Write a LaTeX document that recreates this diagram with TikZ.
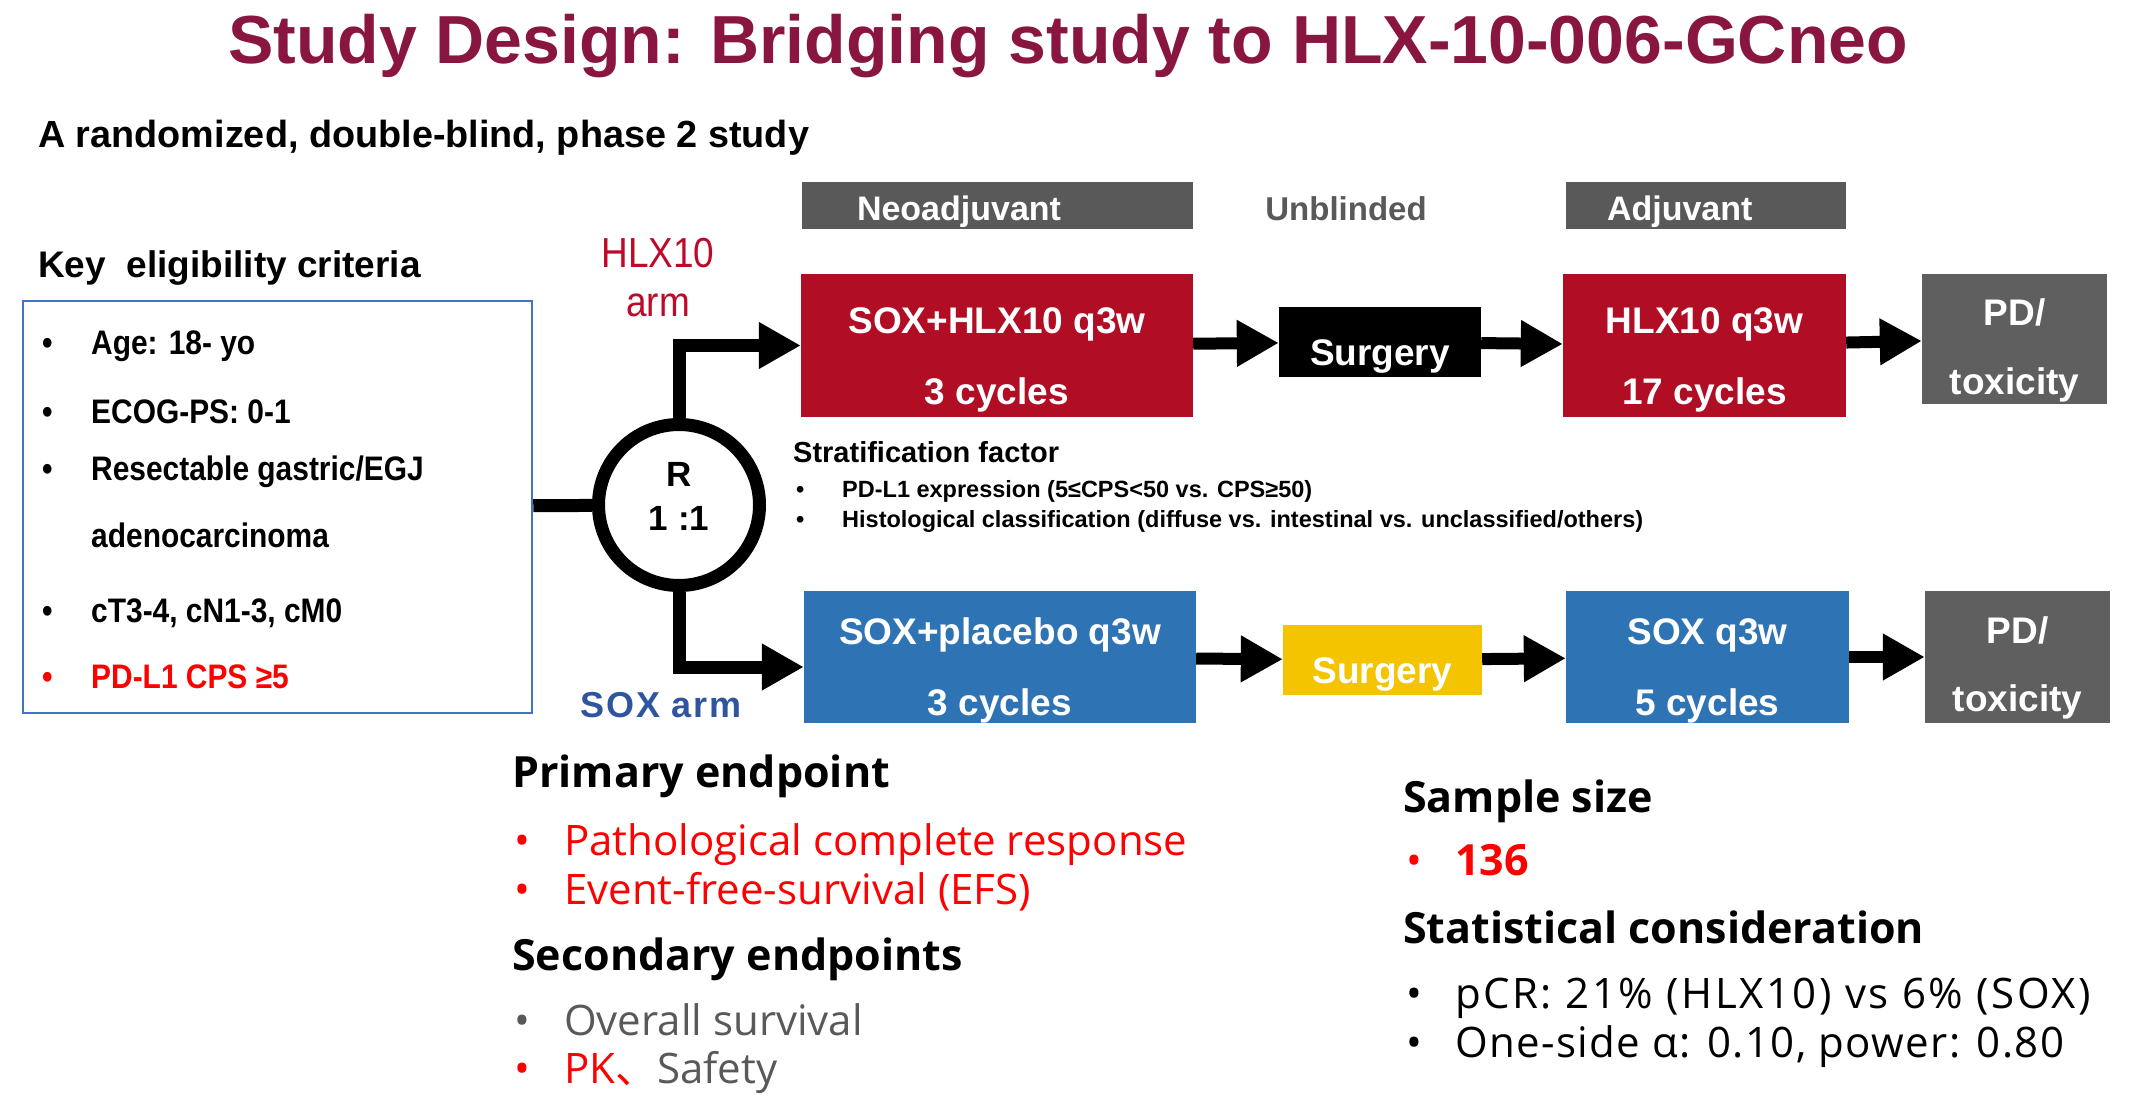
\documentclass[tikz,border=0pt]{standalone}
\usepackage{fontspec}
\setmainfont{Liberation Sans}
\newfontfamily\narrowsans[FakeStretch=0.88]{Liberation Sans}
\newfontfamily\gothic{Open Sans}
\newfontfamily\cjk{Noto Sans CJK SC}
\usetikzlibrary{arrows.meta}

\definecolor{titlered}{HTML}{891640}
\definecolor{armred}{HTML}{B10E26}
\definecolor{armblue}{HTML}{2E74B5}
\definecolor{surgyellow}{HTML}{F5C400}
\definecolor{bargray}{HTML}{595959}
\definecolor{pdgray}{HTML}{5F5F5F}
\definecolor{frameblue}{HTML}{4472C4}
\definecolor{soxblue}{HTML}{2F55A0}
\definecolor{hlxred}{HTML}{BE0A2A}
\definecolor{txtgray}{HTML}{595959}
\definecolor{hotred}{HTML}{FF0000}

% strut that pushes the first line of a box down
\newcommand{\boxstrut}[1]{\rule{0pt}{#1}}

\tikzset{
  txt/.style={anchor=base west, inner sep=0pt},
  flowbox/.style={rectangle, text=white, align=center, inner sep=0pt,
    font=\fontsize{37}{71}\selectfont\bfseries},
  surgbox/.style={flowbox, minimum height=70pt, text height=0pt, text depth=0pt},
  phasebar/.style={rectangle, fill=bargray, text=white, inner xsep=0pt, inner ysep=0pt,
    minimum height=47pt, align=left, text height=31pt, text depth=0pt,
    font=\fontsize{34}{40}\selectfont\bfseries},
  flowarrow/.style={line width=12pt, {Triangle[length=42pt,width=44pt]}-},
  armarrow/.style={line width=13pt, -{Triangle[length=42pt,width=44pt]}},
  eligfont/.style={font=\fontsize{34}{40}\selectfont\narrowsans\bfseries},
  stratfont/.style={font=\fontsize{23.5}{28}\selectfont\bfseries},
  headfont/.style={font=\fontsize{43}{50}\selectfont\gothic\bfseries},
  itemfont/.style={font=\fontsize{42}{50}\selectfont\gothic},
  spacedfont/.style={font=\fontsize{42}{50}\selectfont\gothic\addfontfeatures{LetterSpace=#1}},
}

\begin{document}
\begin{tikzpicture}[x=1pt, y=-1pt]
\useasboundingbox (0,0) rectangle (2150,1115);

\node (title) at (1068,64) [anchor=base, inner sep=0pt, text=titlered,
  font=\fontsize{68}{80}\selectfont\bfseries] {Study Design: Bridging study to HLX-10-006-GCneo};
\node (design) at (38,148) [txt, font=\fontsize{37.8}{44}\selectfont\bfseries] {A randomized, double-blind, phase 2 study};

% phase headers
\node (neobar) at (997.5,205.5) [phasebar, text width=391pt] {\hspace*{55pt}Neoadjuvant};
\node (unblind) at (1346,209) [text=bargray, font=\fontsize{33}{40}\selectfont\bfseries] {Unblinded};
\node (adjbar) at (1706,205.5) [phasebar, text width=280pt] {\hspace*{41pt}Adjuvant};

% eligibility
\node (keyelig) at (38,278) [txt, font=\fontsize{37}{40}\selectfont\bfseries] {Key\ \ eligibility criteria};
\node (elig) at (277.5,507) [draw=frameblue, line width=2.5pt, minimum width=509pt, minimum height=412pt] {};
\node (b1) at (42,355) [txt, eligfont] {•};
\node (age) at (91,355) [txt, eligfont] {Age: 18- yo};
\node (b2) at (42,423) [txt, eligfont] {•};
\node (ecog) at (91,423) [txt, eligfont] {ECOG-PS: 0-1};
\node (b3) at (42,480) [txt, eligfont] {•};
\node (resect) at (91,480) [txt, eligfont] {Resectable gastric/EGJ};
\node (adeno) at (91,547) [txt, eligfont] {adenocarcinoma};
\node (b4) at (42,622) [txt, eligfont] {•};
\node (stage) at (91,622) [txt, eligfont] {cT3-4, cN1-3, cM0};
\node (b5) at (42,688) [txt, eligfont, text=hotred] {•};
\node (cps) at (91,688) [txt, eligfont, text=hotred] {PD-L1 CPS ≥5};

% randomisation
\node (rand) at (679,505) [circle, draw, line width=13pt, minimum size=161pt, inner sep=0pt, align=center,
  font=\fontsize{35}{44}\selectfont\bfseries] {R\\1 :1\rule[-18pt]{0pt}{18pt}} edge[line width=13pt] (elig);
\node (hlxarm) at (658,278) [inner sep=0pt, text=hlxred, align=center,
  font=\fontsize{42}{49}\selectfont\narrowsans] {HLX10\\arm};
\node (soxarm) at (661,717) [anchor=base, inner sep=0pt, text=soxblue,
  font=\fontsize{36}{40}\selectfont\bfseries\addfontfeatures{LetterSpace=5}] {SOX arm};

% HLX10 arm
\node (neo1) at (997,345.5) [flowbox, fill=armred, minimum width=392pt, minimum height=143pt] {\boxstrut{55pt}SOX+HLX10 q3w\\3 cycles};
\node (surg1) at (1380,342) [surgbox, fill=black, minimum width=202pt] {\raisebox{-24pt}{Surgery}} edge[flowarrow] (neo1);
\node (adj1) at (1704.5,345.5) [flowbox, fill=armred, minimum width=283pt, minimum height=143pt] {\boxstrut{55pt}HLX10 q3w\\17 cycles} edge[flowarrow] (surg1);
\node (pd1) at (2014.5,339) [flowbox, fill=pdgray, minimum width=185pt, minimum height=130pt,
  font=\fontsize{37}{69}\selectfont\bfseries] {\boxstrut{50pt}PD/\\toxicity} edge[flowarrow] (adj1);

% SOX arm
\node (neo2) at (1000,657) [flowbox, fill=armblue, minimum width=392pt, minimum height=132pt] {\boxstrut{54pt}SOX+placebo q3w\\3 cycles};
\node (surg2) at (1382.5,660) [surgbox, fill=surgyellow, minimum width=199pt] {\raisebox{-23pt}{Surgery}} edge[flowarrow] (neo2);
\node (adj2) at (1707.5,657) [flowbox, fill=armblue, minimum width=283pt, minimum height=132pt] {\boxstrut{54pt}SOX q3w\\5 cycles} edge[flowarrow] (surg2);
\node (pd2) at (2017.5,657) [flowbox, fill=pdgray, minimum width=185pt, minimum height=132pt,
  font=\fontsize{37}{68}\selectfont\bfseries] {\boxstrut{48pt}PD/\\toxicity} edge[flowarrow] (adj2);

\draw[armarrow] (rand) |- (neo1);
\draw[armarrow] (rand) |- ([yshift=-10pt]neo2.west);

% stratification
\node (strat) at (793,462) [txt, font=\fontsize{29}{34}\selectfont\bfseries] {Stratification factor};
\node (sb1) at (796,497) [txt, stratfont] {•};
\node (pdl1) at (842,497) [txt, stratfont] {PD-L1 expression (5≤CPS<50 vs. CPS≥50)};
\node (sb2) at (796,527) [txt, stratfont] {•};
\node (histo) at (842,527) [txt, stratfont] {Histological classification (diffuse vs. intestinal vs. unclassified/others)};

% endpoints
\node (primary) at (512,787) [txt, headfont] {Primary endpoint};
\node (pb1) at (514,855) [txt, itemfont, text=hotred] {•};
\node (pcr) at (564,855) [txt, itemfont, text=hotred] {Pathological complete response};
\node (pb2) at (514,904) [txt, itemfont, text=hotred] {•};
\node (efs) at (564,904) [txt, itemfont, text=hotred] {Event-free-survival (EFS)};
\node (secondary) at (512,970) [txt, headfont] {Secondary endpoints};
\node (sb3) at (514,1035) [txt, itemfont, text=txtgray] {•};
\node (os) at (564,1035) [txt, itemfont, text=txtgray] {Overall survival};
\node (sb4) at (514,1083) [txt, itemfont, text=hotred] {•};
\node (pk) at (564,1083) [txt, itemfont, text=hotred] {PK{\cjk 、}\textcolor{txtgray}{Safety}};

% sample size and statistics
\node (sample) at (1403,812) [txt, headfont] {Sample size};
\node (nb1) at (1406,875) [txt, itemfont, text=hotred] {•};
\node (n136) at (1455,875) [txt, headfont, text=hotred] {136};
\node (stats) at (1403,943) [txt, headfont] {Statistical consideration};
\node (nb2) at (1406,1008) [txt, itemfont] {•};
\node (rates) at (1455,1008) [txt, spacedfont=6] {pCR: 21\% (HLX10) vs 6\% (SOX)};
\node (nb3) at (1406,1057) [txt, itemfont] {•};
\node (alpha) at (1455,1057) [txt, spacedfont=3.3] {One-side α: 0.10, power: 0.80};
\end{tikzpicture}
\end{document}
